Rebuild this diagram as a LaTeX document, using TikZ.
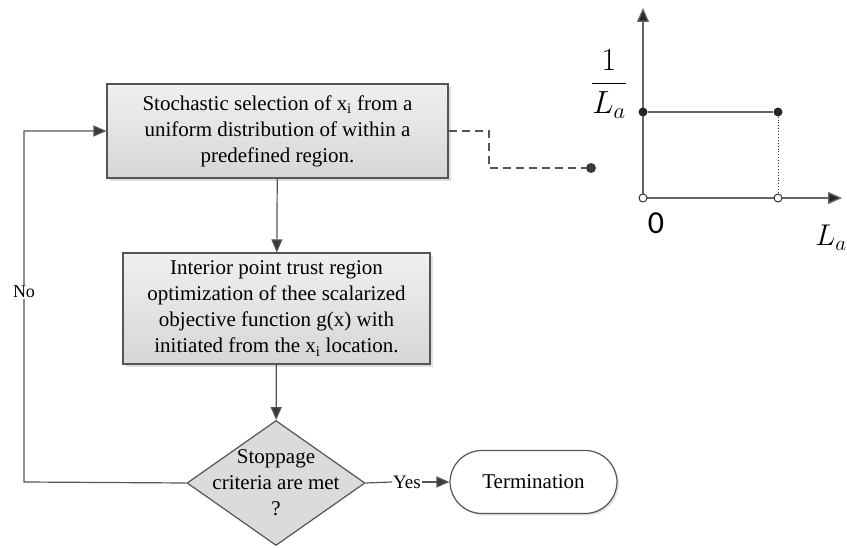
\RequirePackage{fix-cm}
\documentclass[tikz,border=0pt]{standalone}
\usepackage{amsmath}
\usepackage{fontspec}
\setmainfont{Liberation Serif}
\newfontfamily\axisfont{Carlito}
\usetikzlibrary{arrows.meta, shapes.geometric, shadows}

\definecolor{linegray}{HTML}{555555}
\definecolor{tipgray}{HTML}{3A3A3A}

\begin{document}
\begin{tikzpicture}[x=1pt, y=-1pt,
        procbox/.style={draw=linegray, line width=1.2pt, top color=gray!12, bottom color=gray!32,
            drop shadow={opacity=0.25, shadow xshift=3pt, shadow yshift=-3pt},
            align=center, font=\fontsize{21}{26}\selectfont, inner sep=0pt},
        decision/.style={draw=linegray, line width=1.2pt, diamond, fill=gray!28, inner sep=0pt},
        stopbox/.style={draw=linegray, line width=1.2pt, fill=white, rounded corners=32pt,
            drop shadow={opacity=0.2, shadow xshift=2pt, shadow yshift=-2pt},
            minimum width=167pt, minimum height=63pt, font=\fontsize{21}{26}\selectfont},
        flow/.style={draw=linegray, line width=1.2pt, -{Triangle[length=13pt, width=11pt, fill=tipgray]}},
        axis/.style={draw=gray!80!black, line width=1.3pt, -{Triangle[length=14pt, width=12pt, fill=black!85]}}]
    \useasboundingbox (0,0) rectangle (847,548);

    % flowchart
    \node[procbox, minimum width=341pt, minimum height=94pt] (select) at (277.5,131)
        {Stochastic selection of x\textsubscript{i} from a\\uniform distribution of within a\\predefined region.};
    \node[procbox, minimum width=307pt, minimum height=111pt] (optim) at (276.5,308.5)
        {Interior point trust region\\optimization of thee scalarized\\objective function g(x) with\\initiated from the x\textsubscript{i} location.};
    \node[decision, minimum width=178pt, minimum height=125pt] (stop) at (276,483) {};
    \node[align=center, font=\fontsize{21}{26}\selectfont] (stoptext) at (stop) {Stoppage\\criteria are met\\?};
    \node[stopbox] (term) at (533.5,482) {Termination};

    \draw[flow] (select) -- (optim);
    \draw[flow] (optim) -- (stop);
    \node[font=\fontsize{19}{22}\selectfont, inner sep=1pt] (yes) at (407,482) {Yes};
    \draw[draw=linegray, line width=1.2pt] (stop.east) -- (yes.west);
    \draw[flow] (yes.east) -- (term.west);

    \coordinate (lowleft) at (24,482);
    \coordinate (upleft) at (24,131);
    \draw[flow] (stop.west) -- (lowleft) -- (upleft) -- (select.west);
    \node[fill=white, font=\fontsize{18}{22}\selectfont, inner sep=1pt] (no) at (24,292) {No};

    % dashed link to the density plot
    \coordinate (bend1) at (489,131);
    \coordinate (bend2) at (489,168);
    \node[circle, fill=tipgray, minimum size=10pt, inner sep=0pt] (pin) at (591,168) {};
    \draw[linegray, line width=1.2pt, dash pattern=on 8pt off 5pt] (select.east) -- (bend1) -- (bend2) -- (pin);

    % uniform density
    \coordinate (orig) at (643,198);
    \coordinate (ytop) at (643,8);
    \coordinate (xend) at (842,198);
    \draw[axis] (orig) -- (ytop);
    \draw[axis] (orig) -- (xend);
    \node[circle, fill=black!85, minimum size=9pt, inner sep=0pt] (lvlA) at (643,112) {};
    \node[circle, fill=black!85, minimum size=9pt, inner sep=0pt] (lvlB) at (778,112) {};
    \node[circle, draw=black!80, fill=white, line width=1pt, minimum size=8pt, inner sep=0pt] (baseA) at (643,198) {};
    \node[circle, draw=black!80, fill=white, line width=1pt, minimum size=8pt, inner sep=0pt] (baseB) at (778,198) {};
    \draw[gray!80!black, line width=1.3pt] (lvlA) -- (lvlB);
    \draw[black!80, line width=0.9pt, dotted] (lvlB) -- (baseB);

    \node[font=\fontsize{32}{36}\selectfont, inner sep=0pt] (ylab) at (609,84) {$\dfrac{1}{L_a}$};
    \node[font=\axisfont\fontsize{32}{36}\selectfont, inner sep=0pt] (zero) at (656,223) {0};
    \node[font=\fontsize{30}{36}\selectfont, inner sep=0pt] (xlab) at (831,238) {$L_a$};
\end{tikzpicture}
\end{document}
